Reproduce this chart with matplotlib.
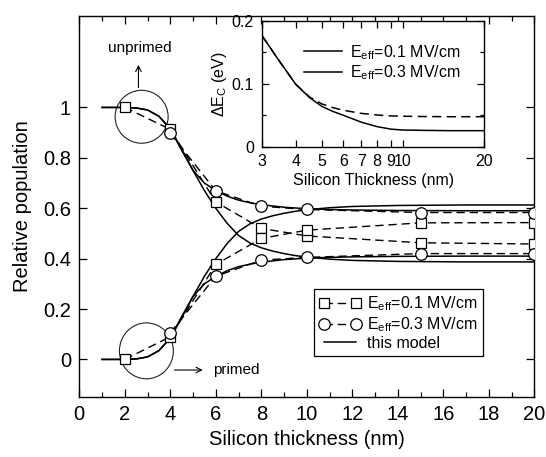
import matplotlib
matplotlib.use("Agg")
import matplotlib.pyplot as plt
from matplotlib.patches import Ellipse
from matplotlib.ticker import FixedLocator, FixedFormatter, MultipleLocator, NullFormatter

plt.rcParams['font.family'] = ['Liberation Sans', 'DejaVu Sans']
plt.rcParams['mathtext.fontset'] = 'custom'
plt.rcParams['mathtext.rm'] = 'Liberation Sans'
plt.rcParams['mathtext.it'] = 'Liberation Sans:italic'
plt.rcParams['xtick.direction'] = 'in'
plt.rcParams['ytick.direction'] = 'in'

# measured valley populations
thick_01 = [2, 4, 6, 8, 10, 15, 20]
unp_01 = [1.0, 0.913, 0.625, 0.52, 0.49, 0.463, 0.458]
pri_01 = [0.0, 0.09, 0.377, 0.48, 0.513, 0.542, 0.543]
thick_03 = [4, 6, 8, 10, 15, 20]
unp_03 = [0.897, 0.669, 0.608, 0.595, 0.583, 0.583]
pri_03 = [0.106, 0.33, 0.394, 0.405, 0.42, 0.42]

# model curves
model_x = [1, 2, 2.5, 3, 3.5, 4, 4.5, 5, 5.5, 6, 6.5, 7, 7.5, 8, 8.5, 9, 9.5, 10,
           11, 12, 14, 17, 20]
unp_01_model = [1.0, 1.0, 0.998, 0.99, 0.965, 0.915, 0.835, 0.75, 0.67, 0.60, 0.54, 0.492,
                0.462, 0.443, 0.43, 0.42, 0.412, 0.406, 0.398, 0.393, 0.389, 0.387, 0.387]
pri_01_model = [0.0, 0.0, 0.002, 0.01, 0.035, 0.085, 0.165, 0.25, 0.33, 0.40, 0.46, 0.508,
                0.538, 0.557, 0.57, 0.58, 0.588, 0.594, 0.602, 0.607, 0.611, 0.613, 0.613]
unp_03_model = [1.0, 1.0, 0.998, 0.99, 0.965, 0.915, 0.83, 0.75, 0.70, 0.67, 0.648, 0.632,
                0.622, 0.614, 0.609, 0.604, 0.601, 0.598, 0.595, 0.593, 0.591, 0.59, 0.59]
pri_03_model = [0.0, 0.0, 0.002, 0.01, 0.035, 0.085, 0.17, 0.25, 0.30, 0.33, 0.352, 0.368,
                0.378, 0.386, 0.391, 0.396, 0.399, 0.402, 0.405, 0.407, 0.409, 0.41, 0.41]

# conduction band offset (inset)
inset_x = [3, 3.5, 4, 4.5, 5, 5.5, 6, 7, 8, 9, 10, 12, 15, 20]
dEc_01 = [0.176, 0.134, 0.099, 0.078, 0.064, 0.056, 0.05, 0.039, 0.032, 0.028, 0.0265,
          0.026, 0.0255, 0.0255]
dEc_03 = [0.176, 0.134, 0.099, 0.079, 0.068, 0.062, 0.058, 0.053, 0.0505, 0.049, 0.0485,
          0.048, 0.0477, 0.0477]

ytick_vals = [0, 0.2, 0.4, 0.6, 0.8, 1.0]
ytick_txt = ["0", "0.2", "0.4", "0.6", "0.8", "1"]

fig = plt.figure(figsize=(5.46, 4.57), dpi=100)
ax = fig.add_axes([0.1452, 0.1319, 0.8334, 0.8337])

dash = (0, (6, 3.5))
for ym in (unp_01_model, pri_01_model, unp_03_model, pri_03_model):
    ax.plot(model_x, ym, color='black', lw=1.1, zorder=2, solid_joinstyle='round')

mk_sq = dict(marker='s', ms=6.8, mfc='white', mec='black', mew=0.9, color='black',
             lw=1.0, ls=dash, zorder=3)
mk_ci = dict(marker='o', ms=8.3, mfc='white', mec='black', mew=0.9, color='black',
             lw=1.0, ls=dash, zorder=3)
h1, = ax.plot(thick_01, unp_01, **mk_sq)
ax.plot(thick_01, pri_01, **mk_sq)
h2, = ax.plot(thick_03, unp_03, **mk_ci)
ax.plot(thick_03, pri_03, **mk_ci)
h3, = ax.plot([], [], color='black', lw=1.1)

ax.set_xlim(0, 20)
ax.set_ylim(-0.148, 1.364)
ax.xaxis.set_major_locator(MultipleLocator(2))
ax.xaxis.set_minor_locator(MultipleLocator(1))
ax.yaxis.set_major_locator(FixedLocator(ytick_vals))
ax.yaxis.set_major_formatter(FixedFormatter(ytick_txt))
ax.tick_params(which='both', top=True, right=True, labelsize=14.5, width=0.9)
ax.tick_params(which='major', length=6, pad=6)
ax.tick_params(which='minor', length=3.5)
for s in ax.spines.values():
    s.set_linewidth(1.0)
ax.set_xlabel("Silicon thickness (nm)", fontsize=14.5, labelpad=4)
ax.set_ylabel("Relative population", fontsize=14.5, labelpad=8)

# highlight circles and labels
ax.add_patch(Ellipse((2.74, 0.963), 2.33, 0.21, fill=False, lw=0.8, ec='#222222'))
ax.add_patch(Ellipse((2.95, 0.034), 2.37, 0.222, fill=False, lw=0.8, ec='#222222'))
ax.annotate('', xy=(2.6, 1.18), xytext=(2.6, 1.068),
            arrowprops=dict(arrowstyle='->', lw=0.8, color='black'))
ax.text(2.67, 1.235, "unprimed", ha='center', va='center', fontsize=11)
ax.annotate('', xy=(5.55, -0.042), xytext=(4.06, -0.042),
            arrowprops=dict(arrowstyle='->', lw=0.8, color='black'))
ax.text(5.9, -0.042, "primed", ha='left', va='center', fontsize=11)

leg = ax.legend([h1, h2, h3],
                ["E$_{\\rm eff}$=0.1 MV/cm", "E$_{\\rm eff}$=0.3 MV/cm", "this model"],
                loc='lower right', bbox_to_anchor=(0.905, 0.085), numpoints=2,
                fontsize=11.5, handlelength=2.6, handletextpad=0.4, borderpad=0.35,
                labelspacing=0.12, fancybox=False, edgecolor='black', framealpha=1)
leg.get_frame().set_linewidth(0.9)

# inset: conduction band offset
ins = fig.add_axes([0.4804, 0.679, 0.406, 0.275])
ins.plot(inset_x, dEc_01, color='black', lw=1.1)
ins.plot(inset_x, dEc_03, color='black', lw=1.1, ls=(0, (6, 3.5)))
ins.set_xscale('log')
ins.set_xlim(3, 20)
ins.set_ylim(0, 0.2)
ins.xaxis.set_major_locator(FixedLocator([3, 4, 5, 6, 7, 8, 9, 10, 20]))
ins.xaxis.set_major_formatter(FixedFormatter(["3", "4", "5", "6", "7", "8", "9", "10", "20"]))
ins.xaxis.set_minor_locator(FixedLocator([]))
ins.xaxis.set_minor_formatter(NullFormatter())
ins.yaxis.set_major_locator(FixedLocator([0, 0.1, 0.2]))
ins.yaxis.set_major_formatter(FixedFormatter(["0", "0.1", "0.2"]))
ins.yaxis.set_minor_locator(FixedLocator([0.05, 0.15]))
ins.tick_params(which='both', top=True, right=True, labelsize=11.5, width=0.9)
ins.tick_params(which='major', length=5)
ins.tick_params(axis='x', which='major', pad=5)
ins.tick_params(axis='y', which='major', pad=6)
ins.tick_params(which='minor', length=3)
for s in ins.spines.values():
    s.set_linewidth(1.0)
ins.set_xlabel("Silicon Thickness (nm)", fontsize=11.5, labelpad=3)
ins.set_ylabel("$\\Delta$E$_{\\rm C}$ (eV)", fontsize=11.5, labelpad=2)
l1, = ins.plot([], [], color='black', lw=1.1)
l2, = ins.plot([], [], color='black', lw=1.1)
ins.legend([l1, l2], ["E$_{\\rm eff}$=0.1 MV/cm", "E$_{\\rm eff}$=0.3 MV/cm"],
           loc='upper right', bbox_to_anchor=(0.93, 0.89), frameon=False,
           fontsize=11.5, handlelength=2.4, handletextpad=0.5, labelspacing=0.1,
           borderpad=0)

fig.savefig("out.png", dpi=100)
